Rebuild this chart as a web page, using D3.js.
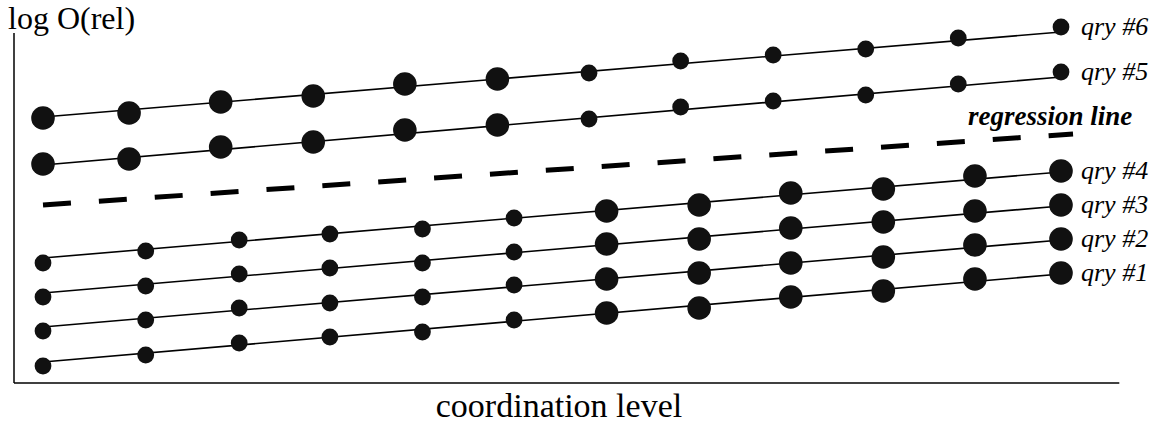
<!DOCTYPE html>
<html>
<head>
<meta charset="utf-8">
<script src="https://cdn.jsdelivr.net/npm/d3@7"></script>
<style>
  body { margin: 0; background: #fff; }
  text { font-family: "Liberation Serif", "Times New Roman", serif; fill: #000; }
</style>
</head>
<body>
<div class="board"></div>
<script>
// values, y is log O(rel) in arbitrary units
var levelsLow = [1, 2.11, 3.12, 4.1, 5.1, 6.09, 7.09, 8.09, 9.08, 10.08, 11.07, 12];
var levelsHigh = [1, 1.93, 2.92, 3.92, 4.91, 5.91, 6.9, 7.89, 8.89, 9.89, 10.89, 12];

var qry1 = [17, 28, 40, 46, 51, 63, 70, 75, 86, 92, 104, 110];
var qry2 = [52, 63, 75, 80, 86, 98, 104, 110, 120, 126, 138, 144];
var qry3 = [86, 97, 109, 115, 120, 131, 139, 144, 155, 161, 172, 178];
var qry4 = [120, 132, 143, 149, 154, 165, 172, 178, 190, 194, 207, 212];
var qry5 = [219, 224, 236, 241, 253, 258, 264, 276, 282, 288, 299, 311];
var qry6 = [265, 270, 281, 287, 299, 304, 310, 322, 328, 334, 345, 356];

var dotSizeLow = ['s', 's', 's', 's', 's', 's', 'l', 'l', 'l', 'l', 'l', 'l'];
var dotSizeHigh = ['l', 'l', 'l', 'l', 'l', 'l', 's', 's', 's', 's', 's', 's'];

var queryNames = ['qry #1', 'qry #2', 'qry #3', 'qry #4', 'qry #5', 'qry #6'];
var lineStart = [21, 56, 90, 125, 218, 266];
var lineEnd = [109, 143, 177, 211, 306, 351];

var regressionLevels = [1, 12.13];
var regressionValues = [178, 249];

var width = 1168;
var height = 425;

var svg = d3.select('.board')
            .append('svg')
            .attr('width', width)
            .attr('height', height);

var x = d3.scaleLinear().domain([1, 12]).range([43, 1061]);
var y = d3.scaleLinear().domain([0, 350]).range([383, 33]);
var radius = d3.scaleOrdinal().domain(['s', 'l']).range([8.4, 11.8]);

var queries = [
  {name: queryNames[0], values: qry1, levels: levelsLow, sizes: dotSizeLow, start: lineStart[0], end: lineEnd[0]},
  {name: queryNames[1], values: qry2, levels: levelsLow, sizes: dotSizeLow, start: lineStart[1], end: lineEnd[1]},
  {name: queryNames[2], values: qry3, levels: levelsLow, sizes: dotSizeLow, start: lineStart[2], end: lineEnd[2]},
  {name: queryNames[3], values: qry4, levels: levelsLow, sizes: dotSizeLow, start: lineStart[3], end: lineEnd[3]},
  {name: queryNames[4], values: qry5, levels: levelsHigh, sizes: dotSizeHigh, start: lineStart[4], end: lineEnd[4]},
  {name: queryNames[5], values: qry6, levels: levelsHigh, sizes: dotSizeHigh, start: lineStart[5], end: lineEnd[5]}
];

// axes, drawn as plain lines (no ticks in the figure)
svg.append('line')
   .attr('x1', 14).attr('y1', y(350))
   .attr('x2', 14).attr('y2', y(0))
   .attr('stroke', '#000').attr('stroke-width', 1.5);
svg.append('line')
   .attr('x1', 14).attr('y1', y(0))
   .attr('x2', x(12.63)).attr('y2', y(0))
   .attr('stroke', '#000').attr('stroke-width', 1.5);

// fitted line per query
svg.selectAll('line.fit')
   .data(queries)
   .enter()
   .append('line')
   .attr('class', 'fit')
   .attr('x1', function(d) { return x(d.levels[0]); })
   .attr('y1', function(d) { return y(d.start); })
   .attr('x2', function(d) { return x(d.levels[d.levels.length - 1]); })
   .attr('y2', function(d) { return y(d.end); })
   .attr('stroke', '#000')
   .attr('stroke-width', 1.6);

// regression line
svg.append('path')
   .datum(d3.zip(regressionLevels, regressionValues))
   .attr('d', d3.line()
                .x(function(d) { return x(d[0]); })
                .y(function(d) { return y(d[1]); }))
   .attr('fill', 'none')
   .attr('stroke', '#000')
   .attr('stroke-width', 5)
   .attr('stroke-dasharray', '28,28');

// dots
var groups = svg.selectAll('g.qry')
                .data(queries)
                .enter()
                .append('g')
                .attr('class', 'qry');

groups.selectAll('circle')
      .data(function(d) {
        return d.values.map(function(v, i) {
          return {level: d.levels[i], value: v, size: d.sizes[i]};
        });
      })
      .enter()
      .append('circle')
      .attr('cx', function(d) { return x(d.level); })
      .attr('cy', function(d) { return y(d.value); })
      .attr('r', function(d) { return radius(d.size); })
      .style('fill', '#111');

groups.append('text')
      .attr('x', function(d) { return x(d.levels[d.levels.length - 1]) + 20; })
      .attr('y', function(d) { return y(d.values[d.values.length - 1]) + 8; })
      .style('font-size', '26px')
      .style('font-style', 'italic')
      .text(function(d) { return d.name; });

svg.append('text')
   .attr('x', 968)
   .attr('y', y(258))
   .style('font-size', '27px')
   .style('font-style', 'italic')
   .style('font-weight', 'bold')
   .text('regression line');

svg.append('text')
   .attr('x', 8)
   .attr('y', 29)
   .style('font-size', '32px')
   .text('log O(rel)');

svg.append('text')
   .attr('x', 559)
   .attr('y', 417)
   .attr('text-anchor', 'middle')
   .style('font-size', '34px')
   .text('coordination level');
</script>
</body>
</html>
